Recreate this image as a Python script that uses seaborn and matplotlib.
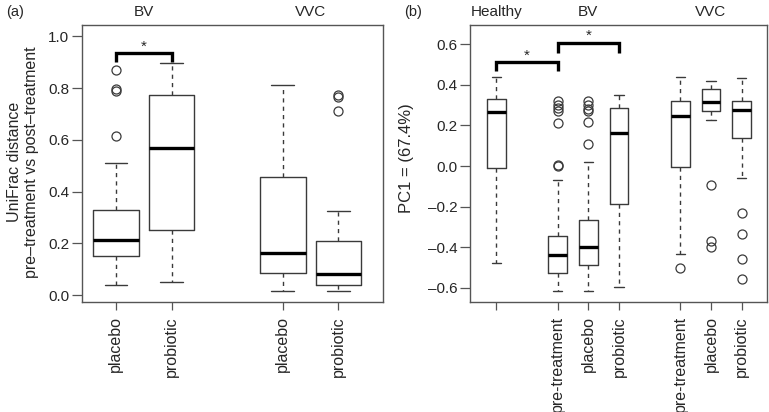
import matplotlib
matplotlib.use("Agg")
import matplotlib.pyplot as plt
import seaborn as sns

# ---- panel (a): UniFrac distance pre vs post treatment ----
a_groups = ["BV", "VVC"]
a_labels = ["placebo", "probiotic", "placebo", "probiotic"]
a_whislo = [0.039, 0.050, 0.016, 0.016]
a_q1 = [0.151, 0.253, 0.085, 0.039]
a_med = [0.215, 0.567, 0.165, 0.084]
a_q3 = [0.329, 0.773, 0.456, 0.210]
a_whishi = [0.512, 0.895, 0.811, 0.325]
a_fliers = [[0.870, 0.795, 0.790, 0.616], [], [], [0.772, 0.764, 0.712]]
a_yticks = [0.0, 0.2, 0.4, 0.6, 0.8, 1.0]

# ---- panel (b): PC1 ----
b_groups = ["Healthy", "BV", "VVC"]
b_labels = ["", "pre-treatment", "placebo", "probiotic",
            "pre-treatment", "placebo", "probiotic"]
b_whislo = [-0.477, -0.615, -0.616, -0.595, -0.434, 0.225, -0.059]
b_q1 = [-0.011, -0.528, -0.485, -0.187, -0.003, 0.269, 0.140]
b_med = [0.264, -0.438, -0.397, 0.161, 0.244, 0.315, 0.277]
b_q3 = [0.328, -0.344, -0.267, 0.285, 0.320, 0.377, 0.320]
b_whishi = [0.438, -0.070, 0.020, 0.349, 0.436, 0.418, 0.433]
b_fliers = [[],
            [0.318, 0.298, 0.287, 0.273, 0.210, 0.004, 0.0],
            [0.318, 0.298, 0.279, 0.269, 0.218, 0.110],
            [],
            [-0.500],
            [-0.092, -0.370, -0.397],
            [-0.229, -0.336, -0.456, -0.554]]
b_yticks = [-0.6, -0.4, -0.2, 0.0, 0.2, 0.4, 0.6]

sns.set_style("ticks")
plt.rcParams["font.family"] = ["Liberation Sans", "DejaVu Sans"]

EDGE = "#3a3a3a"
FRAME = "#555555"

fig = plt.figure(figsize=(7.69, 4.12), dpi=100)
ax_a = fig.add_axes([0.1066, 0.267, 0.392, 0.672])
ax_b = fig.add_axes([0.6115, 0.267, 0.3863, 0.672])


def make_stats(lo, q1, med, q3, hi, fl):
    return [dict(whislo=lo[i], q1=q1[i], med=med[i], q3=q3[i], whishi=hi[i],
                 fliers=fl[i]) for i in range(len(med))]


def draw(ax, stats, pos, width):
    ax.bxp(stats, positions=pos, widths=width, capwidths=width * 0.5,
           manage_ticks=False,
           boxprops=dict(color=EDGE, linewidth=1.0),
           whiskerprops=dict(color=EDGE, linewidth=1.0, linestyle=(0, (3, 3))),
           capprops=dict(color=EDGE, linewidth=1.0),
           medianprops=dict(color="black", linewidth=2.4, solid_capstyle="butt"),
           flierprops=dict(marker="o", markerfacecolor="none",
                           markeredgecolor=EDGE, markersize=6.5,
                           markeredgewidth=0.9, linestyle="none"))
    for s in ax.spines.values():
        s.set_color(FRAME)
        s.set_linewidth(1.0)
    ax.tick_params(axis="y", length=7, width=0.9, color=FRAME, labelsize=11, pad=2)
    ax.tick_params(axis="x", length=6, width=0.9, color=FRAME, labelsize=11.5, pad=4)


def bracket(ax, x0, x1, y, leg):
    ax.plot([x0, x0, x1, x1], [y - leg, y, y, y - leg], color="black",
            linewidth=2.4, solid_joinstyle="miter", solid_capstyle="butt",
            clip_on=False)
    ax.text((x0 + x1) / 2, y + leg * 0.75, "*", ha="center", va="center",
            fontsize=11)


# panel a
pos_a = [1, 2, 4, 5]
draw(ax_a, make_stats(a_whislo, a_q1, a_med, a_q3, a_whishi, a_fliers), pos_a, 0.82)
ax_a.set_xlim(0.39, 5.81)
ax_a.set_ylim(-0.026, 1.043)
ax_a.set_yticks(a_yticks)
ax_a.set_yticklabels([f"{v:.1f}" for v in a_yticks])
ax_a.set_xticks(pos_a)
ax_a.set_xticklabels(a_labels, rotation=90)
bracket(ax_a, 1, 2, 0.934, 0.034)

# panel b
pos_b = [1, 3, 4, 5, 7, 8, 9]
draw(ax_b, make_stats(b_whislo, b_q1, b_med, b_q3, b_whishi, b_fliers), pos_b, 0.61)
ax_b.set_xlim(0.145, 9.84)
ax_b.set_ylim(-0.669, 0.693)
ax_b.set_yticks(b_yticks)
ax_b.set_yticklabels([f"{v:.1f}".replace("-", "\u2013") for v in b_yticks])
ax_b.set_xticks(pos_b)
ax_b.set_xticklabels(b_labels, rotation=90)
bracket(ax_b, 1, 3, 0.510, 0.045)
bracket(ax_b, 3, 5, 0.605, 0.047)

# group headers above the panels
for ax, names, xs in [(ax_a, a_groups, [1.5, 4.5]), (ax_b, b_groups, [1, 4, 8])]:
    for name, x in zip(names, xs):
        xf = fig.transFigure.inverted().transform(ax.transData.transform((x, 0)))[0]
        fig.text(xf, 1 - 12 / 412, name, fontsize=11, ha="center", va="center")

fig.text(6 / 769, 1 - 12 / 412, "(a)", fontsize=10.5, ha="left", va="center")
fig.text(404 / 769, 1 - 12 / 412, "(b)", fontsize=10.5, ha="left", va="center")

fig.text(23 / 769, 1 - 162 / 412,
         "UniFrac distance\npre\u2013treatment vs post\u2013treatment",
         rotation=90, ha="center", va="center", multialignment="center",
         fontsize=11.5, linespacing=1.15)
fig.text(407 / 769, 1 - 158 / 412, "PC1 = (67.4%)", rotation=90,
         ha="center", va="center", fontsize=12)

fig.savefig("out.png", dpi=100)
